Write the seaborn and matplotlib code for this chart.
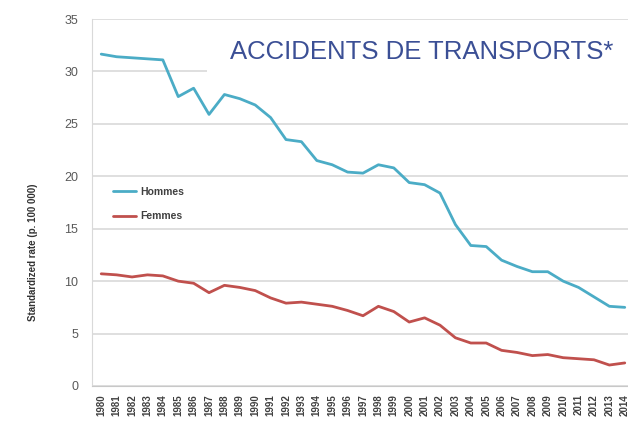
import matplotlib
matplotlib.use("Agg")
import matplotlib.pyplot as plt
import seaborn as sns
import pandas as pd
from matplotlib.patches import Rectangle

years = list(range(1980, 2015))
hommes = [31.65, 31.4, 31.3, 31.2, 31.1, 27.6, 28.4, 25.9, 27.8, 27.4,
          26.8, 25.6, 23.5, 23.3, 21.5, 21.1, 20.4, 20.3, 21.1, 20.8,
          19.4, 19.2, 18.4, 15.4, 13.4, 13.3, 12.0, 11.4, 10.9, 10.9,
          10.0, 9.4, 8.5, 7.6, 7.5]
femmes = [10.7, 10.6, 10.4, 10.6, 10.5, 10.0, 9.8, 8.9, 9.6, 9.4,
          9.1, 8.4, 7.9, 8.0, 7.8, 7.6, 7.2, 6.7, 7.6, 7.1,
          6.1, 6.5, 5.8, 4.6, 4.1, 4.1, 3.4, 3.2, 2.9, 3.0,
          2.7, 2.6, 2.5, 2.0, 2.2]
series_names = ["Hommes", "Femmes"]
title = "ACCIDENTS DE TRANSPORTS*"
ylabel = "Standardized rate (p. 100 000)"
yticks = [0, 5, 10, 15, 20, 25, 30, 35]

df = pd.DataFrame({
    "year": years * 2,
    "value": hommes + femmes,
    "sexe": [series_names[0]] * len(years) + [series_names[1]] * len(years),
})

sns.set_style("white")
plt.rcParams['font.family'] = ['Liberation Sans', 'DejaVu Sans']

W, H = 628, 426
fig = plt.figure(figsize=(W / 100, H / 100), dpi=100)
left, right, top, bottom = 92, 634, 19, 386
ax = fig.add_axes([left / W, (H - bottom) / H, (right - left) / W, (bottom - top) / H])

sns.lineplot(data=df, x="year", y="value", hue="sexe",
             palette={"Hommes": "#4bacc6", "Femmes": "#c0504d"},
             linewidth=2.0, ax=ax, legend=True)

ax.set_xlim(1979.4, 2014.6)
ax.set_ylim(0, 35)
ax.set_yticks(yticks)
ax.set_xticks(years)
ax.set_xticklabels([str(y) for y in years], rotation=90, fontsize=7,
                   color="#404040", fontweight="bold")
ax.tick_params(axis="y", labelsize=9, colors="#595959", length=0, pad=10)
ax.tick_params(axis="x", length=3, color="#c8c8c8", pad=3, direction="out")
ax.yaxis.grid(True, color="#d9d9d9", linewidth=1.2)
ax.set_axisbelow(True)
for s in ["top", "right"]:
    ax.spines[s].set_visible(False)
ax.spines["left"].set_color("#d9d9d9")
ax.spines["bottom"].set_color("#c8c8c8")
ax.set_xlabel("")
ax.set_ylabel(ylabel, fontsize=7, fontweight="bold", color="#333333")
ax.yaxis.set_label_coords((38 - left) / (right - left), (bottom - 252) / (bottom - top))

# white box behind title (hides part of gridline at 30)
ax.add_patch(Rectangle((207 / W, (H - 100) / H), 1, 70 / H,
                       transform=fig.transFigure, facecolor="white",
                       edgecolor="none", zorder=1))
fig.text(230 / W, (H - 52) / H, title, fontsize=18.5, color="#3b4f95",
         va="center", ha="left", zorder=5)

leg = fig.legend(*ax.get_legend_handles_labels(), loc="center left",
                 bbox_to_anchor=(104 / W, (H - 204) / H),
                 frameon=False, fontsize=7.5, handlelength=2.2, handletextpad=0.4,
                 labelspacing=1.4)
ax.get_legend().remove()
for t in leg.get_texts():
    t.set_color("#404040")
    t.set_fontweight("bold")

fig.savefig("out.png", dpi=100)
